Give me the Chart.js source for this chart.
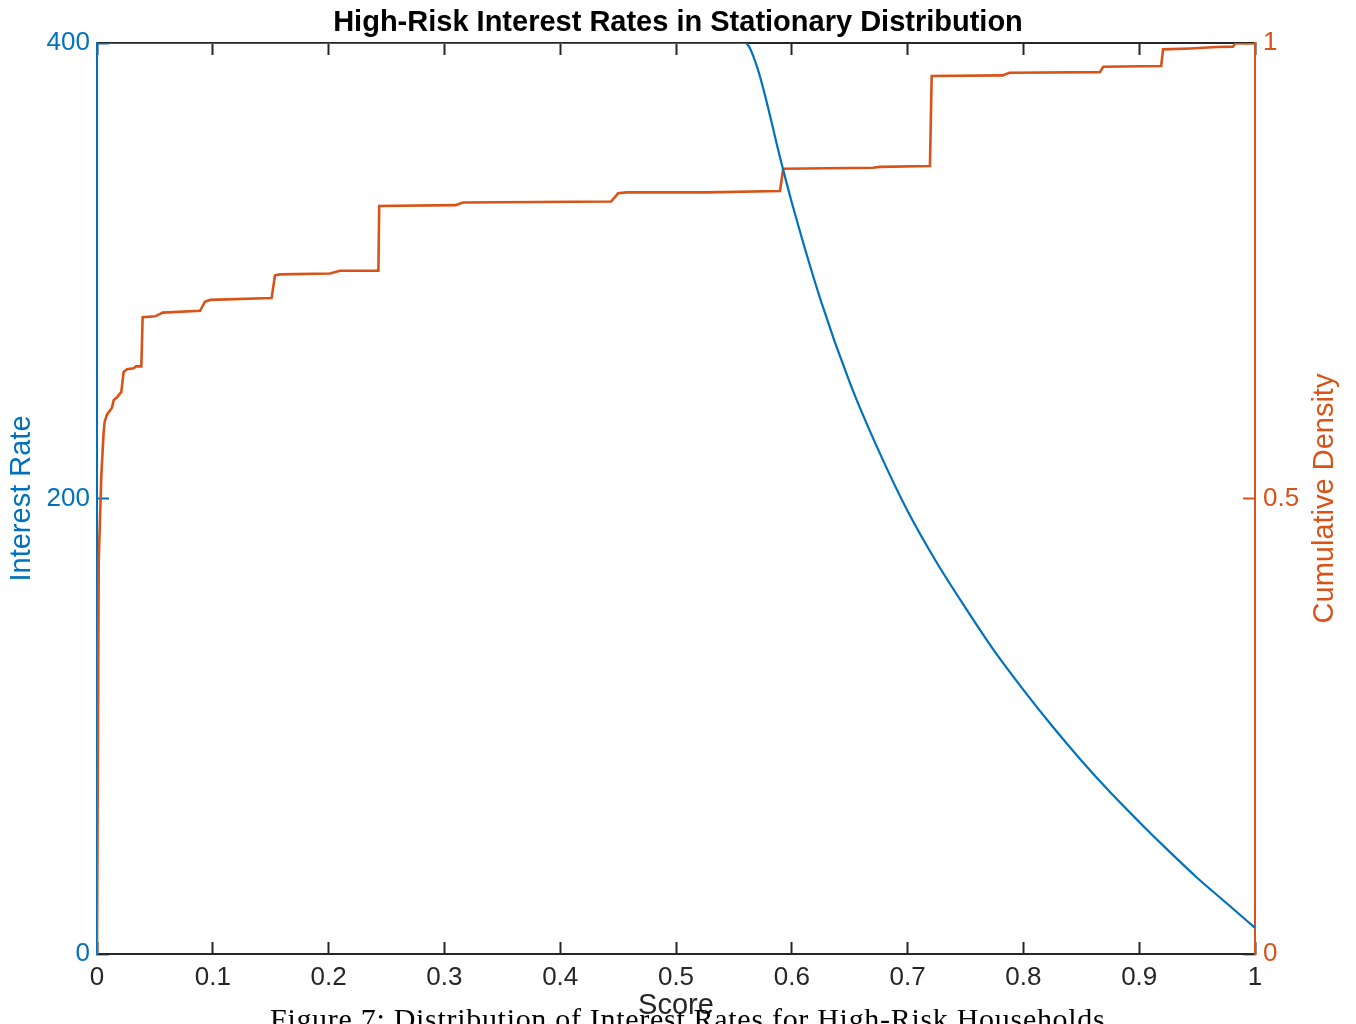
<!DOCTYPE html>
<html>
<head>
<meta charset="utf-8">
<title>High-Risk Interest Rates</title>
<script src="https://cdn.jsdelivr.net/npm/chart.js@4.4.1/dist/chart.umd.min.js"></script>
<style>
  html, body { margin: 0; padding: 0; background: #fff; overflow: hidden; }
  #wrap { position: relative; width: 1356px; height: 1024px; }
  #caption {
    position: absolute; left: 270px; top: 1004px;
    font: 30px "Liberation Serif", "Times New Roman", serif;
    letter-spacing: 0.7px;
    line-height: 1; white-space: nowrap; color: #000;
  }
</style>
</head>
<body>
<div id="wrap">
  <canvas id="canvas" width="1356" height="1024"></canvas>
  <div id="caption">Figure 7: Distribution of Interest Rates for High-Risk Households</div>
</div>
<script>
// interest rate charged at each score
var rateScore = [0, 0.5596, 0.5697, 0.5912, 0.6, 0.625, 0.65, 0.675, 0.7, 0.725, 0.75, 0.775,
  0.8, 0.825, 0.85, 0.875, 0.9, 0.925, 0.95, 0.975, 1];
var rateValue = [400, 400, 390, 347, 330, 287, 251, 221, 194.5, 172, 152, 133,
  116, 100, 85, 71, 58, 45.5, 33.5, 22.5, 11.5];

// cumulative density of households over score
var cdfScore = [0, 0.0015, 0.0037, 0.0057, 0.0066, 0.0086, 0.0115, 0.013, 0.0144, 0.0173, 0.021,
  0.023, 0.0259, 0.0316, 0.0337, 0.0383, 0.0394, 0.0503, 0.0567, 0.089, 0.0932, 0.0976,
  0.1508, 0.1537, 0.158, 0.2012, 0.2098, 0.243, 0.2437, 0.3095, 0.316, 0.444, 0.45, 0.4574,
  0.5264, 0.5898, 0.5926, 0.67, 0.676, 0.7193, 0.7208, 0.782, 0.788, 0.866, 0.869, 0.919,
  0.9206, 0.9439, 0.9669, 0.981, 0.983, 1];
var cdfValue = [0, 0.432, 0.524, 0.572, 0.584, 0.592, 0.597, 0.6, 0.608, 0.611, 0.617,
  0.639, 0.642, 0.643, 0.645, 0.645, 0.699, 0.7, 0.704, 0.706, 0.716, 0.718,
  0.72, 0.745, 0.746, 0.747, 0.75, 0.75, 0.821, 0.822, 0.825, 0.826, 0.835, 0.836,
  0.836, 0.8375, 0.862, 0.863, 0.864, 0.865, 0.9638, 0.9645, 0.9674, 0.968, 0.974, 0.9747,
  0.993, 0.994, 0.9956, 0.996, 0.9996, 1];

var xTicks = [0, 0.1, 0.2, 0.3, 0.4, 0.5, 0.6, 0.7, 0.8, 0.9, 1];
var xTickLabels = ['0', '0.1', '0.2', '0.3', '0.4', '0.5', '0.6', '0.7', '0.8', '0.9', '1'];
var rateTicks = [0, 200, 400];
var rateTickLabels = ['0', '200', '400'];
var cdfTicks = [0, 0.5, 1];
var cdfTickLabels = ['0', '0.5', '1'];

var blue = '#0072BD';
var orange = '#D95319';
var grey = '#262626';
var sans = '"Liberation Sans", Arial, Helvetica, sans-serif';

function pairs(xs, ys) {
  return xs.map(function (x, i) { return { x: x, y: ys[i] }; });
}

function fixedTicks(values) {
  return function (axis) {
    axis.ticks = values.map(function (v) { return { value: v }; });
  };
}

// ticks point into the plot, so tickLength is negative
function inwardGrid(color) {
  return { drawOnChartArea: false, drawTicks: true, tickLength: -12, tickColor: color, tickWidth: 2 };
}

// right-hand label reads bottom to top
var rightTitle = {
  id: 'rightTitle',
  afterDraw: function (chart) {
    var ctx = chart.ctx;
    var area = chart.chartArea;
    ctx.save();
    ctx.translate(chart.scales.y1.right - 31, (area.top + area.bottom) / 2);
    ctx.rotate(-Math.PI / 2);
    ctx.font = '29px ' + sans;
    ctx.fillStyle = orange;
    ctx.textAlign = 'center';
    ctx.textBaseline = 'middle';
    ctx.fillText('Cumulative Density', 0, 0);
    ctx.restore();
  }
};

var ctx = document.getElementById('canvas');
new Chart(ctx, {
  type: 'line',
  data: {
    datasets: [{
      label: 'Interest Rate',
      data: pairs(rateScore, rateValue),
      yAxisID: 'y',
      borderColor: blue,
      borderWidth: 2.2,
      pointRadius: 0,
      cubicInterpolationMode: 'monotone',
      fill: false
    }, {
      label: 'Cumulative Density',
      data: pairs(cdfScore, cdfValue),
      yAxisID: 'y1',
      borderColor: orange,
      borderWidth: 2.6,
      pointRadius: 0,
      tension: 0,
      fill: false
    }]
  },
  options: {
    responsive: false,
    animation: false,
    layout: { padding: 0 },
    plugins: {
      legend: { display: false },
      tooltip: { enabled: false },
      title: {
        display: true,
        text: 'High-Risk Interest Rates in Stationary Distribution',
        color: '#000',
        font: { family: sans, size: 29, weight: 'bold' },
        padding: { top: 5.6, bottom: 2.6 }
      }
    },
    scales: {
      x: {
        type: 'linear',
        position: 'bottom',
        min: 0, max: 1,
        afterBuildTicks: fixedTicks(xTicks),
        afterFit: function (s) { s.height = 70; },
        ticks: {
          color: grey, padding: 20,
          font: { family: sans, size: 26 },
          callback: function (v, i) { return xTickLabels[i]; }
        },
        grid: inwardGrid(grey),
        border: { color: grey, width: 2 },
        title: {
          display: true, text: 'Score', color: grey,
          font: { family: sans, size: 29 },
          padding: { top: 0, bottom: 0.6 }
        }
      },
      x2: {
        type: 'linear',
        position: 'top',
        min: 0, max: 1,
        afterBuildTicks: fixedTicks(xTicks),
        afterFit: function (s) { s.height = 0; },
        ticks: { display: false },
        grid: inwardGrid(grey),
        border: { color: grey, width: 2 }
      },
      y: {
        type: 'linear',
        position: 'left',
        min: 0, max: 400,
        afterBuildTicks: fixedTicks(rateTicks),
        afterFit: function (s) { s.width = 97; },
        ticks: {
          color: blue, padding: 19,
          font: { family: sans, size: 26 },
          callback: function (v, i) { return rateTickLabels[i]; }
        },
        grid: inwardGrid(blue),
        border: { color: blue, width: 2 },
        title: {
          display: true, text: 'Interest Rate', color: blue,
          font: { family: sans, size: 29 },
          padding: { top: 4.6, bottom: 0 }
        }
      },
      y1: {
        type: 'linear',
        position: 'right',
        min: 0, max: 1,
        afterBuildTicks: fixedTicks(cdfTicks),
        afterFit: function (s) { s.width = 101; },
        ticks: {
          color: orange, padding: 20,
          font: { family: sans, size: 26 },
          callback: function (v, i) { return cdfTickLabels[i]; }
        },
        grid: inwardGrid(orange),
        border: { color: orange, width: 2 }
      }
    }
  },
  plugins: [rightTitle]
});
</script>
</body>
</html>
